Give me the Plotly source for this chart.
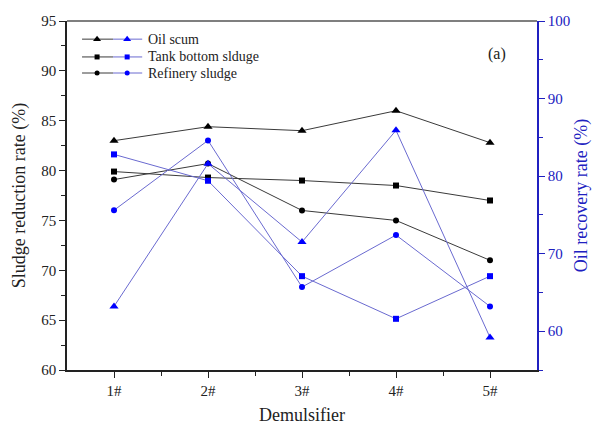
import plotly.graph_objects as go

# Demulsifier samples
demulsifiers = ["1#", "2#", "3#", "4#", "5#"]
positions = [1, 2, 3, 4, 5]

# Sludge reduction rate (%), left axis
reduction_oil_scum = [83.0, 84.4, 84.0, 86.0, 82.8]
reduction_tank_bottom = [79.9, 79.3, 79.0, 78.5, 77.0]
reduction_refinery = [79.1, 80.7, 76.0, 75.0, 71.0]

# Oil recovery rate (%), right axis
recovery_oil_scum = [63.2, 81.6, 71.5, 85.9, 59.2]
recovery_tank_bottom = [82.8, 79.4, 67.1, 61.6, 67.1]
recovery_refinery = [75.6, 84.6, 65.7, 72.4, 63.2]

series_names = ["Oil scum", "Tank bottom slduge", "Refinery sludge"]
symbols = ["triangle-up", "square", "circle"]
marker_sizes = [8, 6, 6]

FONT = "Liberation Serif, Times New Roman, serif"
BLACK_LINE = "#3a3a3a"
BLUE_LINE = "#6a6ad0"
BLUE = "#0000ff"
AXIS_BLUE = "#2020c0"

fig = go.Figure()

reductions = [reduction_oil_scum, reduction_tank_bottom, reduction_refinery]
recoveries = [recovery_oil_scum, recovery_tank_bottom, recovery_refinery]

for name, sym, ms, red, rec in zip(series_names, symbols, marker_sizes, reductions, recoveries):
    fig.add_trace(go.Scatter(
        x=positions, y=red, name=name, mode="lines+markers",
        line=dict(color=BLACK_LINE, width=1),
        marker=dict(symbol=sym, color="black", size=ms),
        xaxis="x", yaxis="y",
    ))
    fig.add_trace(go.Scatter(
        x=positions, y=rec, name=name, mode="lines+markers",
        line=dict(color=BLUE_LINE, width=1),
        marker=dict(symbol=sym, color=BLUE, size=ms),
        xaxis="x", yaxis="y2",
    ))

# Legend key drawn on a hidden overlay axis (0..1 over the plot area)
key_rows = [0.948, 0.897, 0.851]
for row_y, name, sym, ms in zip(key_rows, series_names, symbols, marker_sizes):
    fig.add_trace(go.Scatter(
        x=[0.032, 0.098], y=[row_y, row_y], mode="lines",
        line=dict(color=BLACK_LINE, width=1), xaxis="x3", yaxis="y3",
        hoverinfo="skip",
    ))
    fig.add_trace(go.Scatter(
        x=[0.098, 0.160], y=[row_y, row_y], mode="lines",
        line=dict(color=BLUE_LINE, width=1), xaxis="x3", yaxis="y3",
        hoverinfo="skip",
    ))
    fig.add_trace(go.Scatter(
        x=[0.064], y=[row_y], mode="markers",
        marker=dict(symbol=sym, color="black", size=ms - 1), xaxis="x3", yaxis="y3",
        hoverinfo="skip",
    ))
    fig.add_trace(go.Scatter(
        x=[0.128], y=[row_y], mode="markers",
        marker=dict(symbol=sym, color=BLUE, size=ms - 1), xaxis="x3", yaxis="y3",
        hoverinfo="skip",
    ))
    fig.add_annotation(
        x=0.168, y=row_y, xref="x3", yref="y3", text=name, showarrow=False,
        xanchor="left", yanchor="middle", font=dict(family=FONT, size=14, color="#222"),
    )

fig.add_annotation(
    x=0.915, y=0.905, xref="paper", yref="paper", text="(a)", showarrow=False,
    xanchor="center", yanchor="middle", font=dict(family=FONT, size=16, color="#222"),
)

fig.update_layout(
    width=592, height=425,
    margin=dict(l=67, r=55, t=21, b=55),
    paper_bgcolor="white", plot_bgcolor="white",
    showlegend=False,
    font=dict(family=FONT, color="#222"),
    xaxis=dict(
        range=[0.5, 5.5], tickvals=positions, ticktext=demulsifiers,
        showgrid=False, zeroline=False, automargin=False,
        showline=True, linecolor="#222", linewidth=1.5, mirror=False,
        ticks="outside", ticklen=6, tickcolor="#222", tickwidth=1.2,
        minor=dict(tickvals=[1.5, 2.5, 3.5, 4.5], ticks="outside", ticklen=4,
                   tickcolor="#222", showgrid=False),
        tickfont=dict(family=FONT, size=15, color="#222"),
        title=dict(text="Demulsifier", font=dict(family=FONT, size=18, color="#222"),
                   standoff=16),
    ),
    yaxis=dict(
        range=[60, 95], dtick=5, showgrid=False, zeroline=False, automargin=False,
        showline=True, linecolor="#222", linewidth=1.5,
        ticks="outside", ticklen=6, tickcolor="#222", tickwidth=1.2,
        minor=dict(dtick=2.5, ticks="outside", ticklen=4, tickcolor="#222", showgrid=False),
        tickfont=dict(family=FONT, size=15, color="#222"),
        title=dict(text="Sludge reduction rate (%)",
                   font=dict(family=FONT, size=18, color="#222"), standoff=11),
    ),
    yaxis2=dict(
        range=[55, 100], dtick=10, overlaying="y", side="right",
        showgrid=False, zeroline=False, automargin=False,
        showline=True, linecolor=AXIS_BLUE, linewidth=1.5,
        ticks="outside", ticklen=6, tickcolor=AXIS_BLUE, tickwidth=1.2,
        minor=dict(dtick=5, ticks="outside", ticklen=4, tickcolor=AXIS_BLUE, showgrid=False),
        tickfont=dict(family=FONT, size=15, color=AXIS_BLUE),
        title=dict(text="Oil recovery rate (%)",
                   font=dict(family=FONT, size=18, color=AXIS_BLUE), standoff=22),
    ),
    xaxis3=dict(range=[0, 1], overlaying="x", visible=False, fixedrange=True),
    yaxis3=dict(range=[0, 1], overlaying="y", visible=False, fixedrange=True),
    shapes=[dict(type="line", xref="paper", yref="paper", x0=0, x1=1, y0=1, y1=1,
                 line=dict(color="#555", width=1.5))],
)

fig.write_html("out.html")
